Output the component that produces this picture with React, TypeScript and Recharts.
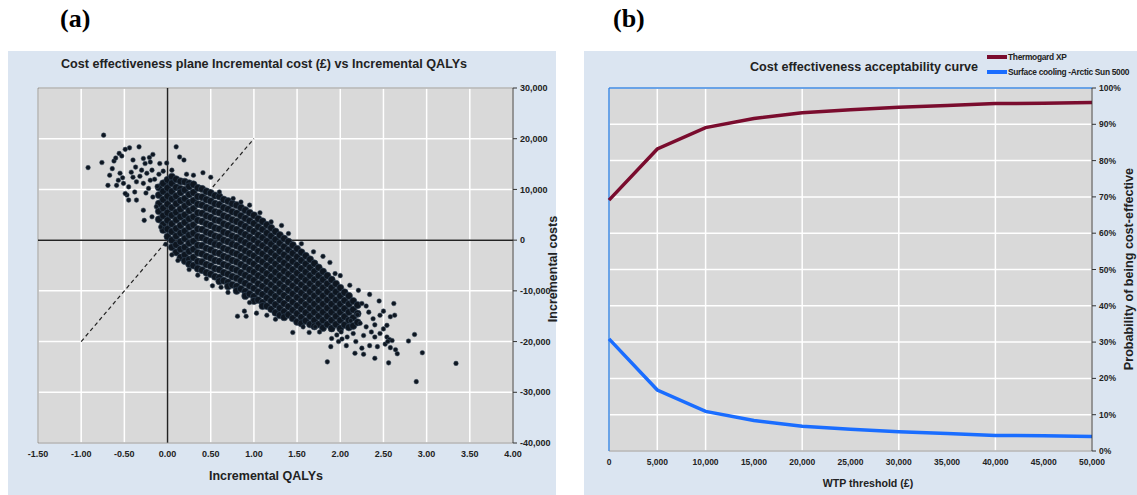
import React from "react";
import {
  CartesianGrid,
  Line,
  LineChart,
  ReferenceLine,
  Scatter,
  ScatterChart,
  XAxis,
  YAxis,
} from "recharts";

const FONT = "'Liberation Sans', Arial, sans-serif";
const PANEL_BG = "#dbe5f1";
const PLOT_BG = "#d9d9d9";

// (a) cost effectiveness plane
const qalyTicks = [-1.5, -1, -0.5, 0, 0.5, 1, 1.5, 2, 2.5, 3, 3.5, 4];
const costTicks = [-40000, -30000, -20000, -10000, 0, 10000, 20000, 30000];
const thresholdLine = [
  { x: -1, y: -20000 },
  { x: 1, y: 20000 },
];

// dense part of the cloud, read column by column: [QALY, costs in that column]
const cloudColumns: [number, number[]][] = [
  [-0.1, [10400, 8900, 7200, 5700, 4100]],
  [-0.05, [11200, 9600, 8000, 6300, 4800, 3100, 2000]],
  [0.0, [11900, 10300, 8700, 7100, 5400, 3900, 2200, 700]],
  [0.05, [12500, 11200, 9600, 8100, 6400, 4900, 3200, 1700, 0, -1400]],
  [0.1, [12000, 10400, 8700, 7200, 5500, 4000, 2300, 800, -900, -2400]],
  [0.15, [11600, 10100, 9400, 7800, 6100, 4600, 2900, 1400, -300, -1800, -3400]],
  [0.2, [11500, 9900, 8200, 6700, 5000, 3500, 1800, 300, -1400, -2900, -4100]],
  [0.25, [11200, 10600, 9000, 7400, 5800, 4200, 2600, 1000, -600, -2200, -3800, -4700]],
  [0.3, [11000, 9400, 7800, 6200, 4600, 3000, 1400, -200, -1800, -3400, -5000]],
  [0.35, [10300, 8600, 7100, 5400, 3900, 2200, 700, -1000, -2500, -4200, -5600]],
  [0.4, [10100, 8500, 6900, 5300, 3700, 2100, 500, -1100, -2700, -4300, -5900]],
  [0.45, [9600, 8000, 6400, 4800, 3200, 1600, 0, -1600, -3200, -4800, -6400]],
  [0.5, [9300, 7700, 6100, 4500, 2900, 1300, -300, -1900, -3500, -5100, -6700]],
  [0.55, [8800, 7200, 5600, 4000, 2400, 800, -800, -2400, -4000, -5600, -7200]],
  [0.6, [8600, 7000, 5400, 3800, 2200, 600, -1000, -2600, -4200, -5800, -7400, -8100]],
  [0.65, [8000, 6400, 4800, 3200, 1600, 0, -1600, -3200, -4800, -6400, -8000]],
  [0.7, [7700, 6100, 4500, 2900, 1300, -300, -1900, -3500, -5100, -6700, -8300, -9100]],
  [0.75, [7200, 5600, 4000, 2400, 800, -800, -2400, -4000, -5600, -7200, -8800]],
  [0.8, [6900, 5300, 3700, 2100, 500, -1100, -2700, -4300, -5900, -7500, -9100, -10000]],
  [0.85, [6400, 4800, 3200, 1600, 0, -1600, -3200, -4800, -6400, -8000, -9600]],
  [0.9, [5900, 4300, 2700, 1100, -500, -2100, -3700, -5300, -6900, -8500, -10100, -11000]],
  [0.95, [5400, 3800, 2200, 600, -1000, -2600, -4200, -5800, -7400, -9000, -10600]],
  [1.0, [4900, 3300, 1700, 100, -1500, -3100, -4700, -6300, -7900, -9500, -11100, -12000]],
  [1.05, [4200, 2600, 1000, -600, -2200, -3800, -5400, -7000, -8600, -10200, -11800]],
  [1.1, [3700, 2100, 500, -1100, -2700, -4300, -5900, -7500, -9100, -10700, -12300, -13000]],
  [1.15, [3000, 1400, -200, -1800, -3400, -5000, -6600, -8200, -9800, -11400, -13000]],
  [1.2, [2400, 800, -800, -2400, -4000, -5600, -7200, -8800, -10400, -12000, -13600]],
  [1.25, [1700, 100, -1500, -3100, -4700, -6300, -7900, -9500, -11100, -12700, -14300]],
  [1.3, [1000, -600, -2200, -3800, -5400, -7000, -8600, -10200, -11800, -13400, -14800]],
  [1.35, [300, -1300, -2900, -4500, -6100, -7700, -9300, -10900, -12500, -14100, -15200]],
  [1.4, [-300, -1900, -3500, -5100, -6700, -8300, -9900, -11500, -13100, -14700]],
  [1.45, [-1000, -2600, -4200, -5800, -7400, -9000, -10600, -12200, -13800, -15400]],
  [1.5, [-1700, -3300, -4900, -6500, -8100, -9700, -11300, -12900, -14500, -16100]],
  [1.55, [-2400, -4000, -5600, -7200, -8800, -10400, -12000, -13600, -15200, -16400]],
  [1.6, [-3100, -4700, -6300, -7900, -9500, -11100, -12700, -14300, -15900]],
  [1.65, [-3800, -5400, -7000, -8600, -10200, -11800, -13400, -15000, -16600]],
  [1.7, [-4600, -6200, -7800, -9400, -11000, -12600, -14200, -15800, -17000]],
  [1.75, [-5400, -7000, -8600, -10200, -11800, -13400, -15000, -16600]],
  [1.8, [-6200, -7800, -9400, -11000, -12600, -14200, -15800, -17300]],
  [1.85, [-7000, -8600, -10200, -11800, -13400, -15000, -16600]],
  [1.9, [-7800, -9400, -11000, -12600, -14200, -15800, -17400]],
  [1.95, [-8600, -10200, -11800, -13400, -15000, -16600]],
  [2.0, [-9400, -11000, -12600, -14200, -15800, -17400]],
  [2.05, [-10300, -11900, -13500, -15100, -16700]],
  [2.1, [-11000, -12600, -14200, -15800, -17200]],
  [2.15, [-12000, -13700, -15300, -16900]],
  [2.2, [-12800, -14500, -16200]],
];

// scattered simulations around the dense band: [QALY, cost]
const outliers: [number, number][] = [
  [-0.74, 20700], [-0.92, 14300], [-0.76, 15300], [-0.56, 17100], [-0.49, 17900],
  [-0.44, 18200], [-0.33, 18400], [-0.62, 15600], [-0.64, 14100], [-0.67, 12800],
  [-0.69, 10800], [-0.57, 11800], [-0.55, 13200], [-0.51, 11200], [-0.45, 10500],
  [-0.47, 8900], [-0.45, 7900], [-0.38, 9500], [-0.36, 7900], [-0.4, 15800],
  [-0.37, 14400], [-0.28, 16100], [-0.21, 16300], [-0.17, 16900], [-0.26, 15100],
  [-0.2, 15400], [-0.3, 13800], [-0.32, 12600], [-0.24, 13200], [-0.18, 13800],
  [-0.09, 15100], [-0.01, 15200], [0.1, 18400], [0.14, 16400], [0.19, 15800],
  [-0.4, 12400], [-0.36, 11500], [-0.28, 11200], [-0.22, 10200], [-0.59, 10800],
  [-0.49, 9200], [-0.28, 5900], [-0.27, 3900], [-0.17, 8500], [-0.13, 6600],
  [0.41, 13300], [0.5, 12400], [-0.15, 12000], [-0.1, 13000], [-0.05, 13600],
  [0.05, 13800], [0.22, 13000], [0.3, 12800], [-0.25, 9300], [-0.2, 11800],
  [-0.12, 10600], [-0.42, 13400], [-0.52, 12300], [-0.6, 16200], [-0.53, 16600],
  [-0.18, 4600], [-0.08, 2600], [-0.02, -800], [0.05, -2900], [0.12, -4000],
  [0.25, -5800], [0.35, -6900], [0.52, -9000], [0.45, -7600], [0.62, -9300],
  [0.7, -10300], [0.81, -15000], [0.89, -14000], [0.91, -15000], [1.03, -14400],
  [0.95, -12300], [1.15, -14800], [1.25, -15600], [1.45, -18200], [1.64, -18200],
  [1.88, -4400], [1.69, -2300], [1.4, 1300], [1.32, 2900], [1.07, 5400],
  [0.95, 6900], [0.76, 8200], [1.2, 3600], [1.55, -700], [1.8, -3200],
  [2.0, -7000], [2.11, -8900], [2.21, -9900], [2.34, -10700], [1.94, -6600],
  [0.6, 9500], [0.85, 7500],
  [3.34, -24300], [2.88, -27900], [2.95, -22200], [2.86, -18600], [2.79, -19900],
  [2.66, -22400], [2.64, -21600], [2.63, -14800], [2.62, -12500], [2.58, -15100],
  [2.56, -24200], [2.5, -14000], [2.46, -14800], [2.4, -23300], [2.34, -20800],
  [2.27, -22500], [2.25, -21300], [2.17, -22300], [2.07, -20800], [1.89, -21000],
  [1.85, -24000], [2.54, -16800], [2.54, -19100], [2.57, -19600], [2.6, -19800],
  [2.46, -18400], [2.4, -19100], [2.36, -18100], [2.3, -17100], [2.23, -16400],
  [2.15, -18400], [2.08, -19100], [2.01, -18100], [1.96, -18700], [1.9, -19400],
  [1.76, -18100], [1.71, -17100], [1.57, -17100], [2.3, -13000], [2.38, -15500],
  [2.25, -12500], [2.45, -12000], [2.33, -14200], [2.4, -16700], [2.5, -17500],
  [2.2, -14700], [2.12, -15900], [2.27, -18800], [2.18, -20000], [1.98, -20000],
  [2.02, -19500], [2.43, -21000], [2.52, -20500], [2.58, -21200], [2.55, -20000],
];

// (b) cost effectiveness acceptability curve
const wtpThresholds = [0, 5000, 10000, 15000, 20000, 25000, 30000, 35000, 40000, 45000, 50000];
const thermogardXP = [69.1, 83.2, 89.1, 91.6, 93.2, 94.0, 94.7, 95.2, 95.7, 95.8, 96.0];
const surfaceCooling = [30.9, 16.8, 10.9, 8.4, 6.8, 6.0, 5.3, 4.8, 4.3, 4.2, 4.0];
const probTicks = [0, 10, 20, 30, 40, 50, 60, 70, 80, 90, 100];

const seriesNames = ["Thermogard XP", "Surface cooling -Arctic Sun 5000"];
const seriesColors = ["#7a0c2e", "#1a6dff"];

const cloudPoints = cloudColumns.flatMap(([q, costs]) => costs.map((c) => ({ qaly: q, cost: c })));
const outlierPoints = outliers.map(([q, c]) => ({ qaly: q, cost: c }));

const ceacData = wtpThresholds.map((w, i) => ({
  wtp: w,
  thermogard: thermogardXP[i],
  surface: surfaceCooling[i],
}));

const tickStyle = { fontSize: 9, fontWeight: 700, fill: "#222", fontFamily: FONT };
const titleStyle: React.CSSProperties = {
  position: "absolute",
  textAlign: "center",
  fontFamily: FONT,
  fontWeight: 700,
  color: "#222",
  whiteSpace: "nowrap",
};

const BigDot = (props: any) => (
  <circle cx={props.cx} cy={props.cy} r={3.6} fill="#0e1620" stroke="#34465a" strokeWidth={0.6} />
);
const Dot = (props: any) => (
  <circle cx={props.cx} cy={props.cy} r={2.3} fill="#0e1620" stroke="#3d4e60" strokeWidth={0.5} />
);

export default function App() {
  return (
    <div style={{ position: "absolute", left: 0, top: 0, width: 1137, height: 495, background: "#fff", overflow: "hidden" }}>
      <div style={{ position: "absolute", left: 60, top: 4, fontFamily: "'Liberation Serif', serif", fontWeight: 700, fontSize: 26 }}>(a)</div>
      <div style={{ position: "absolute", left: 613, top: 4, fontFamily: "'Liberation Serif', serif", fontWeight: 700, fontSize: 26 }}>(b)</div>

      {/* panel (a) */}
      <div style={{ position: "absolute", left: 8, top: 51, width: 548, height: 444, background: PANEL_BG }}>
        <ScatterChart width={548} height={444} margin={{ top: 37, right: 0, bottom: 0, left: 30 }}>
          <CartesianGrid fill={PLOT_BG} stroke="#ffffff" strokeWidth={1.5} />
          <XAxis
            type="number"
            dataKey="qaly"
            domain={[-1.5, 4]}
            ticks={qalyTicks}
            tickFormatter={(v: number) => v.toFixed(2)}
            tick={tickStyle}
            tickLine={false}
            axisLine={{ stroke: "#8a8a8a" }}
            height={52}
            allowDataOverflow
          />
          <YAxis
            type="number"
            dataKey="cost"
            orientation="right"
            domain={[-40000, 30000]}
            ticks={costTicks}
            tickFormatter={(v: number) => v.toLocaleString("en-US")}
            tick={{ ...tickStyle, textAnchor: "start" }}
            tickSize={4}
            tickMargin={3}
            tickLine={{ stroke: "#333" }}
            axisLine={{ stroke: "#333" }}
            width={43}
            allowDataOverflow
          />
          <ReferenceLine x={-1.5} stroke="#8a8a8a" />
          <ReferenceLine y={30000} stroke="#8a8a8a" />
          <ReferenceLine x={0} stroke="#222" strokeWidth={1.5} />
          <ReferenceLine y={0} stroke="#222" strokeWidth={1.5} />
          <ReferenceLine segment={thresholdLine} stroke="#222" strokeWidth={1.2} strokeDasharray="4 3" />
          <Scatter data={cloudPoints} shape={BigDot} isAnimationActive={false} />
          <Scatter data={outlierPoints} shape={Dot} isAnimationActive={false} />
        </ScatterChart>
      </div>
      <div style={{ ...titleStyle, left: 8, width: 512, top: 57, fontSize: 12.6 }}>
        Cost effectiveness plane Incremental cost (£) vs Incremental QALYs
      </div>
      <div style={{ ...titleStyle, left: 166, width: 200, top: 469, fontSize: 12.5 }}>Incremental QALYs</div>
      <div style={{ ...titleStyle, left: 478, width: 150, top: 262, fontSize: 12.5, transform: "rotate(-90deg)" }}>
        Incremental costs
      </div>

      {/* panel (b) */}
      <div style={{ position: "absolute", left: 584, top: 51, width: 553, height: 444, background: PANEL_BG }}>
        <LineChart width={553} height={444} data={ceacData} margin={{ top: 37, right: 0, bottom: 0, left: 25 }}>
          <CartesianGrid fill={PLOT_BG} stroke="#ffffff" strokeWidth={1.5} />
          <XAxis
            type="number"
            dataKey="wtp"
            domain={[0, 50000]}
            ticks={wtpThresholds}
            tickFormatter={(v: number) => v.toLocaleString("en-US")}
            tick={{ ...tickStyle, fontSize: 8.5 }}
            tickLine={false}
            axisLine={{ stroke: "#8a8a8a" }}
            height={44}
          />
          <YAxis
            orientation="right"
            domain={[0, 100]}
            ticks={probTicks}
            tickFormatter={(v: number) => `${v}%`}
            tick={{ ...tickStyle, fontSize: 8.5, textAnchor: "start" }}
            tickSize={4}
            tickMargin={3}
            tickLine={{ stroke: "#333" }}
            axisLine={{ stroke: "#333" }}
            width={45}
          />
          <ReferenceLine x={0} stroke="#3a86e0" strokeWidth={1.5} />
          <ReferenceLine y={100} stroke="#3a86e0" strokeWidth={1.5} />
          <Line type="linear" dataKey="thermogard" name={seriesNames[0]} stroke={seriesColors[0]} strokeWidth={3.5} dot={false} isAnimationActive={false} />
          <Line type="linear" dataKey="surface" name={seriesNames[1]} stroke={seriesColors[1]} strokeWidth={3.5} dot={false} isAnimationActive={false} />
        </LineChart>
      </div>
      <div style={{ ...titleStyle, left: 714, width: 300, top: 60, fontSize: 12.6 }}>Cost effectiveness acceptability curve</div>
      <div style={{ ...titleStyle, left: 768, width: 200, top: 477, fontSize: 10.6 }}>WTP threshold (£)</div>
      <div style={{ ...titleStyle, left: 1004, width: 250, top: 262, fontSize: 12.6, transform: "rotate(-90deg)" }}>
        Probability of being cost-effective
      </div>
      {seriesNames.map((name, i) => (
        <div key={name} style={{ position: "absolute", left: 987, top: 52 + i * 15, display: "flex", alignItems: "center", fontFamily: FONT, fontWeight: 700, fontSize: 8.4, letterSpacing: -0.3, color: "#222", whiteSpace: "nowrap" }}>
          <span style={{ display: "inline-block", width: 20, height: 3.5, background: seriesColors[i], marginRight: 1 }} />
          {name}
        </div>
      ))}
    </div>
  );
}
